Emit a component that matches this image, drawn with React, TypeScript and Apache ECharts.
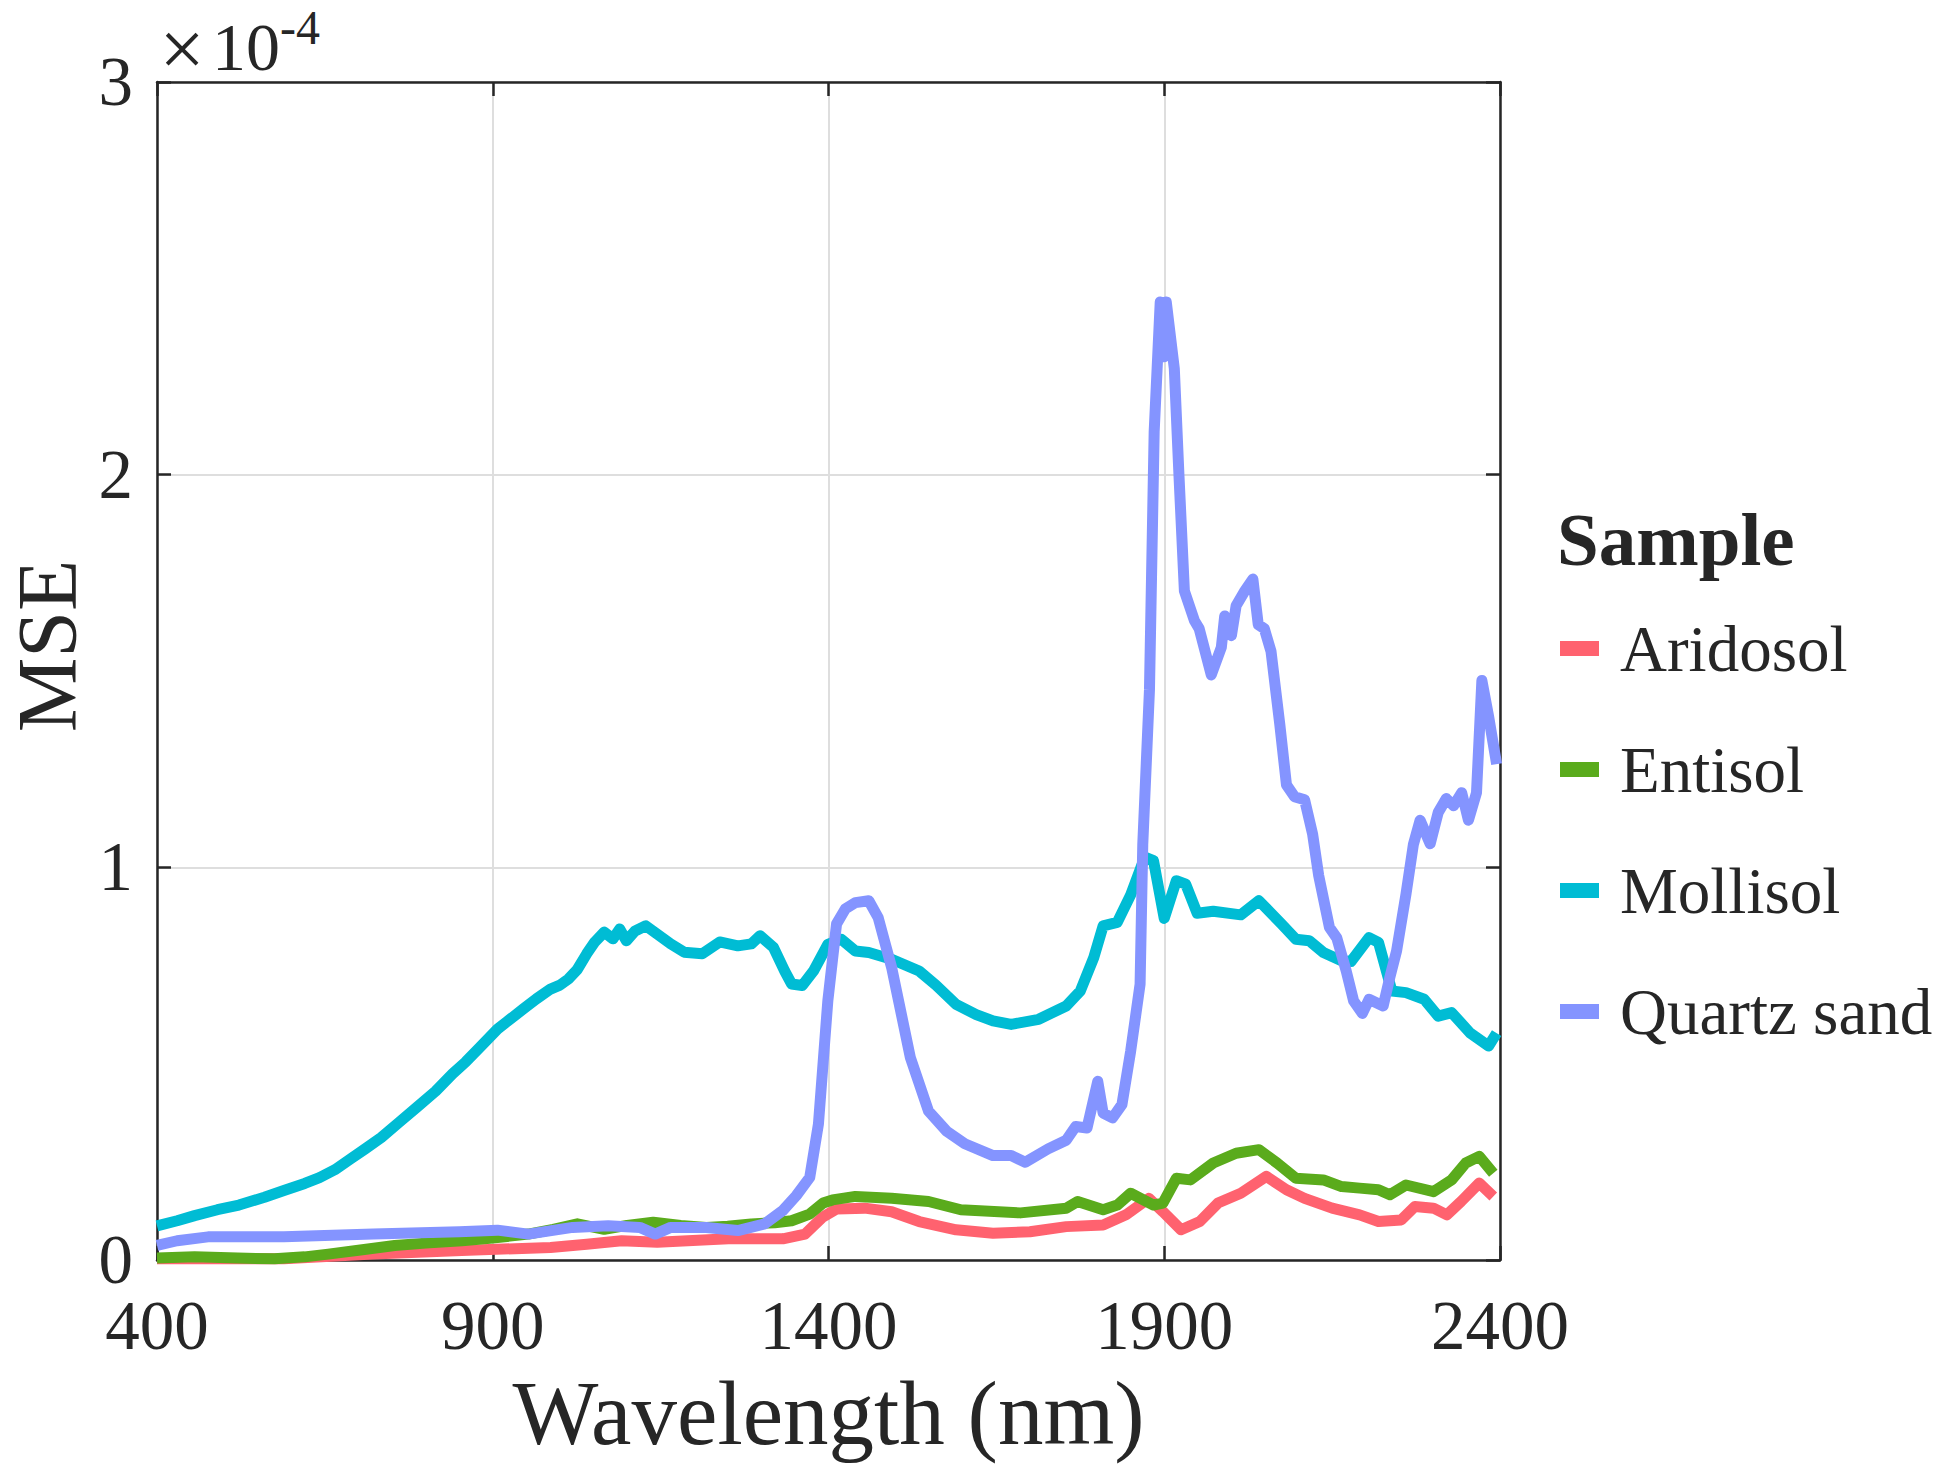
import { useEffect, useRef } from "react";
import * as echarts from "echarts";

// wavelength (nm) / MSE (x 1e-4) pairs
const aridosol: [number, number][] = [
  [400, 0.003], [589, 0.003], [722, 0.015], [854, 0.024], [986, 0.032], [1040, 0.04],
  [1092, 0.049], [1145, 0.045], [1251, 0.054], [1332, 0.054], [1365, 0.066], [1391, 0.109],
  [1412, 0.13], [1454, 0.132], [1494, 0.123], [1535, 0.098], [1590, 0.077], [1645, 0.068],
  [1700, 0.072], [1754, 0.085], [1809, 0.089], [1843, 0.115], [1877, 0.157], [1898, 0.123],
  [1925, 0.077], [1953, 0.098], [1980, 0.145], [2014, 0.17], [2052, 0.213], [2082, 0.179],
  [2109, 0.157], [2150, 0.132], [2191, 0.115], [2219, 0.098], [2253, 0.102], [2273, 0.136],
  [2301, 0.132], [2321, 0.115], [2342, 0.149], [2369, 0.196], [2390, 0.162],
];

const entisol: [number, number][] = [
  [400, 0.005], [456, 0.008], [520, 0.005], [575, 0.003], [620, 0.008], [655, 0.015],
  [700, 0.025], [754, 0.037], [800, 0.043], [854, 0.049], [900, 0.056], [953, 0.066],
  [990, 0.078], [1026, 0.092], [1066, 0.078], [1100, 0.088], [1139, 0.096], [1180, 0.088],
  [1218, 0.083], [1250, 0.086], [1285, 0.092], [1320, 0.095], [1345, 0.1], [1372, 0.117],
  [1392, 0.145], [1406, 0.153], [1440, 0.162], [1494, 0.157], [1549, 0.149], [1597, 0.128],
  [1686, 0.12], [1754, 0.132], [1771, 0.149], [1809, 0.128], [1830, 0.14], [1850, 0.17],
  [1884, 0.14], [1898, 0.145], [1918, 0.208], [1939, 0.204], [1973, 0.247], [2007, 0.272],
  [2041, 0.281], [2068, 0.247], [2096, 0.208], [2137, 0.204], [2164, 0.187], [2191, 0.183],
  [2219, 0.179], [2236, 0.166], [2260, 0.191], [2301, 0.174], [2328, 0.204], [2349, 0.247],
  [2369, 0.264], [2390, 0.221],
];

const mollisol: [number, number][] = [
  [400, 0.087], [430, 0.1], [456, 0.113], [490, 0.128], [522, 0.14], [560, 0.16],
  [589, 0.177], [620, 0.195], [642, 0.21], [665, 0.23], [688, 0.257], [710, 0.283],
  [734, 0.312], [760, 0.35], [787, 0.389], [815, 0.43], [840, 0.474], [860, 0.505],
  [880, 0.54], [907, 0.588], [925, 0.612], [946, 0.64], [965, 0.665], [986, 0.69],
  [1000, 0.7], [1013, 0.716], [1026, 0.74], [1040, 0.78], [1052, 0.81], [1066, 0.835],
  [1079, 0.818], [1089, 0.843], [1099, 0.813], [1112, 0.838], [1128, 0.851], [1145, 0.83],
  [1165, 0.805], [1185, 0.784], [1212, 0.78], [1238, 0.81], [1265, 0.8], [1285, 0.805],
  [1298, 0.826], [1318, 0.796], [1335, 0.735], [1345, 0.703], [1361, 0.699], [1378, 0.737],
  [1399, 0.804], [1419, 0.817], [1440, 0.787], [1460, 0.783], [1494, 0.766], [1535, 0.736],
  [1560, 0.7], [1590, 0.651], [1620, 0.625], [1645, 0.609], [1672, 0.6], [1713, 0.613],
  [1754, 0.647], [1775, 0.685], [1795, 0.77], [1809, 0.851], [1830, 0.86], [1850, 0.93],
  [1871, 1.026], [1884, 1.017], [1900, 0.87], [1918, 0.966], [1932, 0.957], [1949, 0.883],
  [1973, 0.888], [2014, 0.879], [2041, 0.915], [2075, 0.855], [2096, 0.817], [2116, 0.813],
  [2137, 0.783], [2164, 0.762], [2178, 0.76], [2205, 0.821], [2219, 0.809], [2239, 0.685],
  [2260, 0.681], [2287, 0.664], [2308, 0.621], [2328, 0.63], [2355, 0.579], [2383, 0.545],
  [2395, 0.578],
];

const quartzSand: [number, number][] = [
  [400, 0.037], [430, 0.049], [476, 0.059], [589, 0.059], [722, 0.066], [850, 0.072],
  [907, 0.076], [953, 0.066], [1019, 0.083], [1072, 0.087], [1119, 0.083], [1142, 0.066],
  [1165, 0.083], [1218, 0.083], [1265, 0.075], [1305, 0.092], [1332, 0.126], [1352, 0.164],
  [1372, 0.21], [1385, 0.346], [1399, 0.66], [1412, 0.856], [1425, 0.894], [1440, 0.91],
  [1460, 0.915], [1474, 0.872], [1494, 0.745], [1522, 0.515], [1549, 0.379], [1576, 0.328],
  [1603, 0.296], [1645, 0.266], [1672, 0.266], [1693, 0.249], [1727, 0.283], [1754, 0.305],
  [1768, 0.34], [1785, 0.336], [1801, 0.455], [1809, 0.374], [1823, 0.362], [1837, 0.396],
  [1850, 0.532], [1864, 0.702], [1868, 1.058], [1878, 1.453], [1885, 2.11], [1894, 2.44],
  [1899, 2.3], [1903, 2.44], [1915, 2.27], [1922, 1.995], [1930, 1.704], [1945, 1.628],
  [1952, 1.608], [1970, 1.49], [1985, 1.56], [1990, 1.64], [2000, 1.59], [2007, 1.666],
  [2020, 1.704], [2032, 1.734], [2040, 1.618], [2049, 1.608], [2059, 1.55], [2072, 1.365],
  [2082, 1.21], [2094, 1.18], [2109, 1.172], [2121, 1.084], [2130, 0.979], [2146, 0.847],
  [2157, 0.82], [2171, 0.736], [2182, 0.66], [2195, 0.628], [2205, 0.664], [2226, 0.647],
  [2236, 0.72], [2246, 0.787], [2260, 0.932], [2271, 1.058], [2281, 1.12], [2296, 1.06],
  [2308, 1.14], [2320, 1.175], [2331, 1.157], [2343, 1.19], [2353, 1.12], [2365, 1.19],
  [2373, 1.476], [2383, 1.385], [2395, 1.263],
];

const sampleNames = ["Aridosol", "Entisol", "Mollisol", "Quartz sand"];
const sampleColors = ["#ff626f", "#5aab1c", "#00bcd4", "#8494ff"];
const sampleData = [aridosol, entisol, mollisol, quartzSand];

// x ticks run 400..2400 by 500; the axis is kept at 0..2000 so ticks start at 400
const X_START = 400;
const X_END = 2400;
const X_STEP = 500;
const Y_MAX = 3;

const FONT = "'Liberation Serif', 'Times New Roman', serif";
const INK = "#262626";

function buildOption(): echarts.EChartsOption {
  const frame = { show: true, onZero: false, lineStyle: { color: INK, width: 2.5 } };
  const tick = { show: true, inside: true, length: 14, lineStyle: { color: INK, width: 2.5 } };
  const grid = { show: true, lineStyle: { color: "#dedede", width: 2 } };

  return {
    animation: false,
    backgroundColor: "#ffffff",
    grid: { left: 157, right: 445, top: 82, bottom: 213 },
    legend: {
      data: sampleNames,
      orient: "vertical",
      left: 1555,
      top: 611,
      icon: "rect",
      itemWidth: 39,
      itemHeight: 15,
      itemGap: 56,
      selectedMode: false,
      textStyle: { fontFamily: FONT, fontSize: 65, color: INK, padding: [0, 0, 0, 16] },
    },
    graphic: [
      {
        type: "text",
        left: 1557,
        top: 502,
        style: { text: "Sample", font: `bold 75px ${FONT}`, fill: INK },
      },
      {
        type: "text",
        x: 47,
        y: 646,
        rotation: Math.PI / 2,
        style: { text: "MSE", font: `84px ${FONT}`, fill: INK, align: "center", verticalAlign: "middle" },
      },
      {
        type: "text",
        x: 182,
        y: 49,
        style: { text: "×", font: `80px ${FONT}`, fill: INK, align: "center", verticalAlign: "middle" },
      },
      {
        type: "text",
        x: 212,
        y: 47,
        style: { text: "10", font: `68px ${FONT}`, fill: INK, align: "left", verticalAlign: "middle" },
      },
      {
        type: "text",
        x: 280,
        y: 27,
        style: { text: "-4", font: `48px ${FONT}`, fill: INK, align: "left", verticalAlign: "middle" },
      },
    ],
    xAxis: [
      {
        type: "value",
        min: 0,
        max: X_END - X_START,
        interval: X_STEP,
        name: "Wavelength (nm)",
        nameLocation: "middle",
        nameGap: 108,
        nameTextStyle: { fontFamily: FONT, fontSize: 91, color: INK },
        axisLine: frame,
        axisTick: tick,
        axisLabel: {
          fontFamily: FONT,
          fontSize: 69,
          lineHeight: 64,
          color: INK,
          margin: 34,
          formatter: (v: number) => String(v + X_START),
        },
        splitLine: grid,
      },
      {
        type: "value",
        position: "top",
        min: 0,
        max: X_END - X_START,
        interval: X_STEP,
        axisLine: frame,
        axisTick: tick,
        axisLabel: { show: false },
        splitLine: { show: false },
      },
    ],
    yAxis: [
      {
        type: "value",
        min: 0,
        max: Y_MAX,
        interval: 1,
        axisLine: frame,
        axisTick: tick,
        axisLabel: { fontFamily: FONT, fontSize: 69, lineHeight: 56, color: INK, margin: 24 },
        splitLine: grid,
      },
      {
        type: "value",
        position: "right",
        min: 0,
        max: Y_MAX,
        interval: 1,
        axisLine: frame,
        axisTick: tick,
        axisLabel: { show: false },
        splitLine: { show: false },
      },
    ],
    series: sampleNames.map((name, i) => ({
      name,
      type: "line",
      xAxisIndex: 0,
      yAxisIndex: 0,
      showSymbol: false,
      symbol: "none",
      color: sampleColors[i],
      lineStyle: { color: sampleColors[i], width: 11, join: "round" },
      data: sampleData[i].map(([x, y]) => [x - X_START, y]),
    })),
  };
}

export default function App() {
  const chartRef = useRef<HTMLDivElement>(null);

  useEffect(() => {
    document.body.style.margin = "0";
    if (!chartRef.current) return;
    const chart = echarts.init(chartRef.current, undefined, { renderer: "svg" });
    chart.setOption(buildOption());
    return () => chart.dispose();
  }, []);

  return <div ref={chartRef} style={{ width: 1945, height: 1473 }} />;
}
